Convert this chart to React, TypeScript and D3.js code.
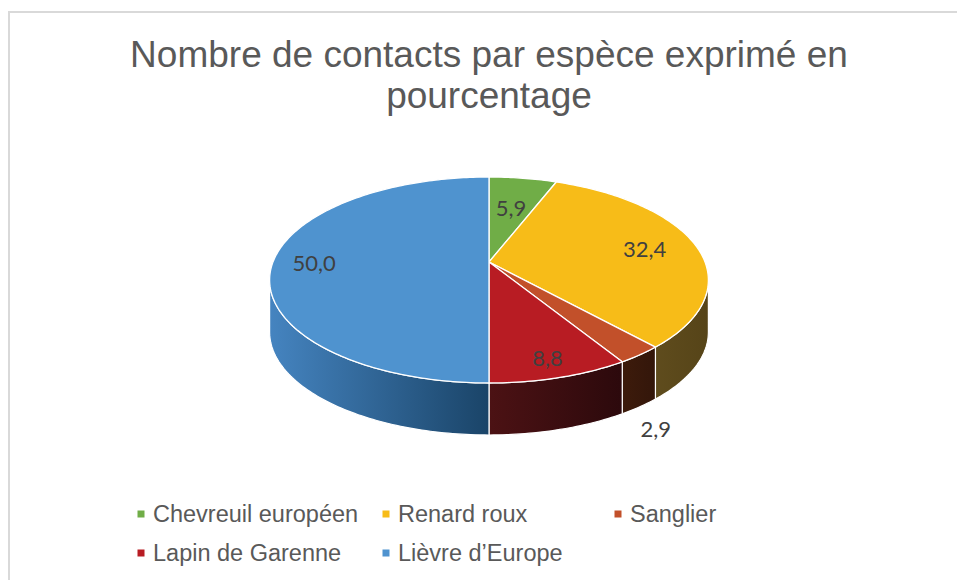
import React from "react";
import * as d3 from "d3";

const categories = ["Chevreuil européen", "Renard roux", "Sanglier", "Lapin de Garenne", "Lièvre d’Europe"];
const values = [5.9, 32.4, 2.9, 8.8, 50.0];
const titleLines = ["Nombre de contacts par espèce exprimé en", "pourcentage"];

const topColors = ["#70ad47", "#f7bc18", "#c2502a", "#b81c23", "#4f93cf"];
const sideColorsA = ["#3c5e25", "#5f4c1d", "#3d1b0b", "#4c1214", "#4584c0"];
const sideColorsB = ["#34521f", "#564418", "#33160a", "#2c090c", "#1a4468"];

const W = 957;
const H = 580;
const cx = 489;
const cy = 262;
const k = 0.1747;
const A = 216;
const B = 99.85;
const T = 52;

const labelFrac = [0.61, 0.75, -1, 0.85, 0.81];

function proj(theta: number, f: number): [number, number] {
  const u = f * Math.sin(theta);
  const v = f * Math.cos(theta);
  const d = 1 + k * v;
  return [cx + (A * u) / d, cy - (B * v) / d];
}

const locale = d3.formatLocale({ decimal: ",", thousands: " ", grouping: [3], currency: ["", "€"] });
const fmt = locale.format(".1f");

export default function App() {
  const arcs = d3.pie<number>().sort(null).value((d) => d)(values);
  const sil0 = Math.acos(-k);
  const sil1 = 2 * Math.PI - sil0;
  const N = 120;

  const topPaths = arcs.map((a) => {
    const pts: [number, number][] = [[cx, cy]];
    const n = Math.max(4, Math.ceil(((a.endAngle - a.startAngle) / (2 * Math.PI)) * N * 3));
    for (let i = 0; i <= n; i++) {
      const t = a.startAngle + ((a.endAngle - a.startAngle) * i) / n;
      pts.push(proj(t, 1));
    }
    return d3.line()(pts) + "Z";
  });

  const sides = arcs.map((a, i) => {
    const s = Math.max(a.startAngle, sil0);
    const e = Math.min(a.endAngle, sil1);
    if (e <= s) return null;
    const n = Math.max(4, Math.ceil(((e - s) / (2 * Math.PI)) * N * 3));
    const topPts: [number, number][] = [];
    for (let j = 0; j <= n; j++) {
      const t = s + ((e - s) * j) / n;
      topPts.push(proj(t, 1));
    }
    const botPts = topPts.map(([x, y]) => [x, y + T] as [number, number]).reverse();
    const all = topPts.concat(botPts);
    const xs = all.map((p) => p[0]);
    return { path: d3.line()(all) + "Z", x0: d3.min(xs)!, x1: d3.max(xs)!, i };
  });

  const labels = arcs.map((a, i) => {
    const mid = (a.startAngle + a.endAngle) / 2;
    const f = labelFrac[i];
    if (f < 0) {
      const [x, y] = proj(mid, 1);
      return { x: x + 16, y: y + T + 22, text: fmt(values[i]) };
    }
    const [x, y] = proj(mid, f);
    return { x, y, text: fmt(values[i]) };
  });

  const legendRows = [
    [0, 1, 2],
    [3, 4],
  ];
  const legendX = [141, 386, 618];
  const legendY = [514, 553];

  return (
    <svg width={W} height={H} style={{ position: "absolute", left: 0, top: 0, background: "#fff" }}>
      <defs>
        {sides.map((s) =>
          s ? (
            <linearGradient key={s.i} id={`side${s.i}`} gradientUnits="userSpaceOnUse" x1={s.i === 4 ? s.x0 : s.x0} x2={s.x1} y1={0} y2={0}>
              <stop offset="0%" stopColor={sideColorsA[s.i]} />
              <stop offset="100%" stopColor={sideColorsB[s.i]} />
            </linearGradient>
          ) : null
        )}
      </defs>
      <rect x={9} y={12} width={1000} height={1000} fill="#fff" stroke="#d9d9d9" strokeWidth={2} />
      {titleLines.map((t, i) => (
        <text key={i} x={489} y={67 + i * 41} textAnchor="middle" fontFamily="'Liberation Sans', Arial, sans-serif" fontSize={37} fill="#595959">
          {t}
        </text>
      ))}
      {sides.map((s) =>
        s ? <path key={"s" + s.i} d={s.path} fill={`url(#side${s.i})`} stroke="#fff" strokeWidth={1.2} strokeLinejoin="round" /> : null
      )}
      {topPaths.map((p, i) => (
        <path key={"t" + i} d={p} fill={topColors[i]} stroke="#fff" strokeWidth={1.3} strokeLinejoin="round" />
      ))}
      {labels.map((l, i) => (
        <text key={"l" + i} x={l.x} y={l.y} textAnchor="middle" dominantBaseline="central" fontFamily="Lato, 'Open Sans', sans-serif" fontSize={22} fill="#404040">
          {l.text}
        </text>
      ))}
      {legendRows.map((row, r) =>
        row.map((idx, c) => (
          <g key={"lg" + idx} transform={`translate(${legendX[c]},${legendY[r]})`}>
            <rect x={-3.5} y={-3.5} width={7} height={7} fill={topColors[idx]} />
            <text x={12} y={0} dominantBaseline="central" fontFamily="'Liberation Sans', Arial, sans-serif" fontSize={23.5} fill="#595959">
              {categories[idx]}
            </text>
          </g>
        ))
      )}
    </svg>
  );
}
